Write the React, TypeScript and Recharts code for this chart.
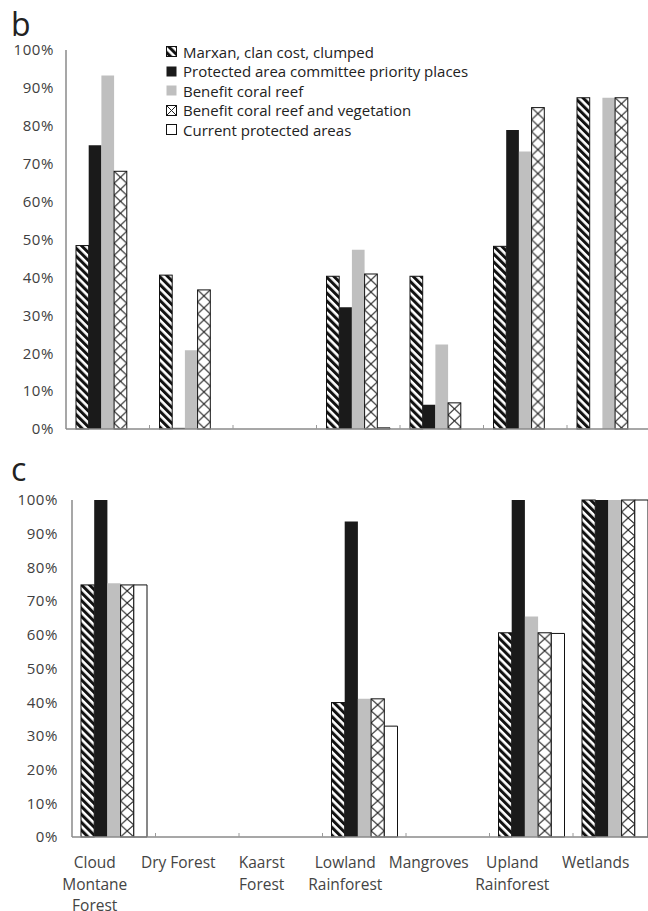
import React from 'react';
import { BarChart, Bar, XAxis, YAxis } from 'recharts';

const categories = ['Cloud Montane Forest', 'Dry Forest', 'Kaarst Forest', 'Lowland Rainforest', 'Mangroves', 'Upland Rainforest', 'Wetlands'];
const tickLines = [['Cloud', 'Montane', 'Forest'], ['Dry Forest'], ['Kaarst', 'Forest'], ['Lowland', 'Rainforest'], ['Mangroves'], ['Upland', 'Rainforest'], ['Wetlands']];
const seriesNames = [
  'Marxan, clan cost, clumped',
  'Protected area committee priority places',
  'Benefit coral reef',
  'Benefit coral reef and vegetation',
  'Current protected areas',
];
const yTicks = [0, 10, 20, 30, 40, 50, 60, 70, 80, 90, 100];

// panel b
const bMarxan = [48.4, 40.6, 0, 40.3, 40.3, 48.2, 87.4];
const bCommittee = [74.9, 0.3, 0, 32.1, 6.4, 78.9, 0];
const bCoral = [93.3, 20.8, 0, 47.3, 22.3, 73.2, 87.4];
const bCoralVeg = [68.0, 36.7, 0, 40.9, 6.9, 84.8, 87.4];
const bCurrent = [0, 0, 0, 0.3, 0, 0, 0];

// panel c
const cMarxan = [74.8, 0, 0, 39.9, 0, 60.6, 100];
const cCommittee = [100, 0, 0, 93.6, 0, 100, 100];
const cCoral = [75.3, 0, 0, 41, 0, 65.4, 100];
const cCoralVeg = [74.8, 0, 0, 41, 0, 60.6, 100];
const cCurrent = [74.8, 0, 0, 32.9, 0, 60.4, 100];

const build = (a: number[], b: number[], c: number[], d: number[], e: number[]) =>
  categories.map((name, i) => ({ name, s1: a[i], s2: b[i], s3: c[i], s4: d[i], s5: e[i] }));

const dataB = build(bMarxan, bCommittee, bCoral, bCoralVeg, bCurrent);
const dataC = build(cMarxan, cCommittee, cCoral, cCoralVeg, cCurrent);

const FONT = '"Open Sans", sans-serif';
const AXIS = '#8a8a8a';

const HatchDefs = () => (
  <defs>
    <pattern id="hatch" patternUnits="userSpaceOnUse" width="5.6" height="5.6" patternTransform="rotate(-45)">
      <rect width="5.6" height="5.6" fill="#fff" />
      <rect width="3" height="5.6" fill="#111" />
    </pattern>
  </defs>
);

const HatchBar = (props: any) => {
  const { x, y, width, height } = props;
  if (!height || height <= 0) return null;
  return <rect x={x} y={y} width={width} height={height} fill="url(#hatch)" stroke="#111" strokeWidth={1} />;
};

const makeCrossBar = (chartId: string) => (props: any) => {
  const { x, y, width, height, index } = props;
  if (!height || height <= 0) return null;
  const pid = `cross-${chartId}-${index}`;
  const ph = 12;
  return (
    <g transform={`translate(${x},${y})`}>
      <defs>
        <pattern id={pid} patternUnits="userSpaceOnUse" width={width} height={ph}>
          <rect width={width} height={ph} fill="#fff" />
          <line x1={0} y1={0} x2={width} y2={ph} stroke="#222" strokeWidth={1.1} />
          <line x1={width} y1={0} x2={0} y2={ph} stroke="#222" strokeWidth={1.1} />
        </pattern>
      </defs>
      <rect x={0} y={0} width={width} height={height} fill={`url(#${pid})`} stroke="#111" strokeWidth={1} />
    </g>
  );
};

const makeBoundaryTick = (withLabels: boolean) => (props: any) => {
  const { x, y, payload, index } = props;
  const half = payload && payload.offset ? payload.offset : 41.75;
  const lx = x - 19;
  return (
    <g>
      {index > 0 && <line x1={x - half} x2={x - half} y1={y} y2={y - 4} stroke="#9a9a9a" strokeWidth={1} />}
      {withLabels && (
        <text x={lx} y={y + 31} textAnchor="middle" fontSize={15.5} fill="#444" fontFamily={FONT}>
          {tickLines[index].map((l, i) => (
            <tspan key={i} x={lx} dy={i === 0 ? 0 : 21.5}>
              {l}
            </tspan>
          ))}
        </text>
      )}
    </g>
  );
};

const Swatch = ({ i }: { i: number }) => {
  const common = { x: 0.5, y: 0.5, width: 10, height: 10 };
  let el: any;
  if (i === 0) el = <rect {...common} fill="url(#hatch)" stroke="#111" />;
  else if (i === 1) el = <rect {...common} fill="#1a1a1a" />;
  else if (i === 2) el = <rect {...common} fill="#bfbfbf" />;
  else if (i === 3)
    el = (
      <g>
        <rect {...common} fill="#fff" stroke="#111" />
        <line x1={0.5} y1={0.5} x2={10.5} y2={10.5} stroke="#222" />
        <line x1={10.5} y1={0.5} x2={0.5} y2={10.5} stroke="#222" />
      </g>
    );
  else el = <rect {...common} fill="#fff" stroke="#111" />;
  return (
    <svg width={11} height={11} style={{ display: 'block', marginRight: 6 }}>
      {el}
    </svg>
  );
};

const Panel = ({ id, data, yWidth, top, height, right, xHeight, barSize, tickMargin, labels }: any) => (
  <BarChart
    width={648}
    height={height}
    data={data}
    margin={{ top, right, left: 0, bottom: 0 }}
    barGap={0}
    barSize={barSize}
  >
    <HatchDefs />
    <YAxis
      domain={[0, 100]}
      ticks={yTicks}
      width={yWidth}
      tickFormatter={(v: number) => `${v}%`}
      tickLine={false}
      tickMargin={tickMargin}
      stroke={AXIS}
      strokeWidth={1.5}
      tick={{ fill: '#404040', fontSize: 15, fontFamily: FONT, letterSpacing: 0.6 }}
      interval={0}
    />
    <XAxis
      dataKey="name"
      height={xHeight}
      stroke={AXIS}
      strokeWidth={1.5}
      tickLine={false}
      tickSize={0}
      tickMargin={0}
      interval={0}
      tick={makeBoundaryTick(labels)}
    />
    <Bar dataKey="s1" isAnimationActive={false} shape={HatchBar} />
    <Bar dataKey="s2" isAnimationActive={false} fill="#1a1a1a" />
    <Bar dataKey="s3" isAnimationActive={false} fill="#bfbfbf" />
    <Bar dataKey="s4" isAnimationActive={false} shape={makeCrossBar(id)} />
    <Bar dataKey="s5" isAnimationActive={false} fill="#fff" stroke="#111" strokeWidth={1} />
  </BarChart>
);

export default function App() {
  return (
    <div style={{ position: 'absolute', left: 0, top: 0, width: 648, height: 911, background: '#fff', fontFamily: FONT }}>
      <div style={{ position: 'absolute', left: 0, top: 0 }}>
        <Panel id="b" data={dataB} yWidth={66} top={50} height={440} right={-2.5} xHeight={11} barSize={12.7} tickMargin={6} labels={false} />
      </div>
      <div style={{ position: 'absolute', left: 11, top: 10, fontSize: 32, lineHeight: '28px', color: '#222' }}>b</div>
      <div style={{ position: 'absolute', left: 166, top: 42 }}>
        {seriesNames.map((n, i) => (
          <div key={n} style={{ display: 'flex', alignItems: 'center', height: 19.5, fontSize: 15, color: '#222', whiteSpace: 'nowrap' }}>
            <Swatch i={i} />
            <span>{n}</span>
          </div>
        ))}
      </div>
      <div style={{ position: 'absolute', left: 0, top: 450 }}>
        <Panel id="c" data={dataC} yWidth={72} top={50} height={461} right={-8.5} xHeight={74} barSize={13.2} tickMargin={8} labels={true} />
      </div>
      <div style={{ position: 'absolute', left: 11, top: 455, fontSize: 32, lineHeight: '28px', color: '#222' }}>c</div>
    </div>
  );
}
